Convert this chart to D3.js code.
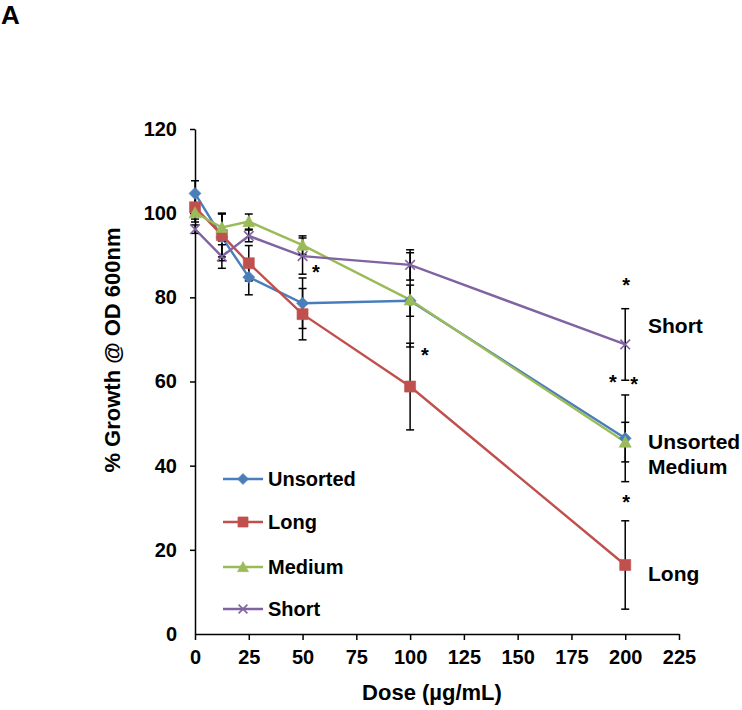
<!DOCTYPE html>
<html>
<head>
<meta charset="utf-8">
<script src="https://cdn.jsdelivr.net/npm/d3@7/dist/d3.min.js"></script>
<style>
  body { margin: 0; background: #fff; }
  svg text { font-family: Arial, "Liberation Sans", sans-serif; font-weight: bold; fill: #000; }
</style>
</head>
<body>
<div id="chart"></div>
<script>
// ---------- data ----------
const doses = [0, 12.5, 25, 50, 100, 200];
const seriesNames = ["Unsorted", "Long", "Medium", "Short"];
const unsortedValues = [104.7, 94.3, 84.8, 78.6, 79.2, 46.5];
const unsortedErrors = [3.0, 5.6, 4.2, 6.0, 3.7, 10.3];
const longValues = [101.4, 94.8, 88.1, 76.0, 58.8, 16.4];
const longErrors = [3.5, 5.2, 4.2, 6.1, 10.3, 10.5];
const mediumValues = [100.1, 96.6, 98.0, 92.4, 79.4, 45.6];
const mediumErrors = [1.5, 3.2, 1.8, 2.2, 11.2, 4.7];
const shortValues = [96.2, 89.7, 94.6, 89.8, 87.7, 68.8];
const shortErrors = [1.0, 2.8, 1.4, 4.3, 3.6, 8.5];
const xTicks = [0, 25, 50, 75, 100, 125, 150, 175, 200, 225];
const yTicks = [0, 20, 40, 60, 80, 100, 120];
// significance asterisks (dose, value)
const starDoses = [56.2, 106.9, 200.4, 194.3, 204.1, 200.4];
const starValues = [86.5, 66.8, 83.4, 60.4, 59.9, 31.8];
// end-of-line labels (value at which each label is centred)
const endLabels = ["Short", "Unsorted", "Medium", "Long"];
const endLabelValues = [73.4, 45.8, 39.9, 14.3];

// ---------- styles ----------
const colors = { Unsorted: "#4a7ebb", Long: "#c0504d", Medium: "#9bbb59", Short: "#8064a2" };
const markers = { Unsorted: "diamond", Long: "square", Medium: "triangle", Short: "cross" };

const series = [
  { name: "Unsorted", values: unsortedValues, errors: unsortedErrors },
  { name: "Long", values: longValues, errors: longErrors },
  { name: "Medium", values: mediumValues, errors: mediumErrors },
  { name: "Short", values: shortValues, errors: shortErrors }
];

const W = 742, H = 710;
const svg = d3.select("#chart").append("svg").attr("width", W).attr("height", H);

const x = d3.scaleLinear().domain([0, 225]).range([195, 679]);
const y = d3.scaleLinear().domain([0, 120]).range([634, 129]);

// axes
const yAxis = d3.axisLeft(y).tickValues(yTicks).tickSize(5).tickPadding(13).tickSizeOuter(0);
const gy = svg.append("g").attr("transform", `translate(${x(0)},0)`).call(yAxis);
const xAxis = d3.axisBottom(x).tickValues(xTicks).tickSize(6).tickPadding(10).tickSizeOuter(0);
const gx = svg.append("g").attr("transform", `translate(0,${y(0)})`).call(xAxis);
[gx, gy].forEach(g => {
  g.select(".domain").attr("stroke", "#000").attr("stroke-width", 1.5);
  g.selectAll(".tick line").attr("stroke", "#000").attr("stroke-width", 1.5);
  g.selectAll(".tick text").style("font-size", "20px").style("font-family", "Arial, 'Liberation Sans', sans-serif").style("font-weight", "bold").attr("fill", "#000");
});
gy.selectAll(".tick").filter(d => d === 0).select("line").remove();

// marker paths (custom shapes, centred at 0,0)
function markerPath(type, s) {
  const h = s / 2;
  if (type === "diamond") return `M0,${-h}L${h},0L0,${h}L${-h},0Z`;
  if (type === "square") { const q = h * 0.92; return `M${-q},${-q}H${q}V${q}H${-q}Z`; }
  if (type === "triangle") return `M0,${-h}L${h},${h * 0.85}L${-h},${h * 0.85}Z`;
  const c = h * 0.8;
  return `M${-c},${-c}L${c},${c}M${-c},${c}L${c},${-c}`;
}
function drawMarker(g, type, color, cx, cy, s) {
  const p = g.append("path").attr("transform", `translate(${cx},${cy})`).attr("d", markerPath(type, s));
  if (type === "cross") {
    p.attr("fill", "none").attr("stroke", color).attr("stroke-width", 1.6);
  } else {
    p.attr("fill", color).attr("stroke", color).attr("stroke-width", 0.6);
  }
}

const line = d3.line().x(d => x(d[0])).y(d => y(d[1]));

// lines
series.forEach(s => {
  svg.append("path")
    .datum(doses.map((d, i) => [d, s.values[i]]))
    .attr("d", line)
    .attr("fill", "none")
    .attr("stroke", colors[s.name])
    .attr("stroke-width", 2.4);
});

// error bars
const capW = 4;
series.forEach(s => {
  const g = svg.append("g");
  doses.forEach((d, i) => {
    const cx = x(d), top = y(s.values[i] + s.errors[i]), bot = y(s.values[i] - s.errors[i]);
    g.append("line").attr("x1", cx).attr("x2", cx).attr("y1", top).attr("y2", bot).attr("stroke", "#000").attr("stroke-width", 1.5);
    g.append("line").attr("x1", cx - capW).attr("x2", cx + capW).attr("y1", top).attr("y2", top).attr("stroke", "#000").attr("stroke-width", 1.5);
    g.append("line").attr("x1", cx - capW).attr("x2", cx + capW).attr("y1", bot).attr("y2", bot).attr("stroke", "#000").attr("stroke-width", 1.5);
  });
});

// markers
series.forEach(s => {
  const g = svg.append("g");
  doses.forEach((d, i) => drawMarker(g, markers[s.name], colors[s.name], x(d), y(s.values[i]), 12));
});

// asterisks
starDoses.forEach((d, i) => {
  svg.append("text").attr("x", x(d)).attr("y", y(starValues[i]) + 9)
    .attr("text-anchor", "middle").style("font-size", "20px").text("*");
});

// end labels
endLabels.forEach((t, i) => {
  svg.append("text").attr("x", 648).attr("y", y(endLabelValues[i]))
    .attr("dy", "0.36em").style("font-size", "21px").text(t);
});

// legend
const legendY = [479, 522, 567, 609];
series.forEach((s, i) => {
  const g = svg.append("g").attr("transform", `translate(223,${legendY[i]})`);
  g.append("line").attr("x1", 0).attr("x2", 40).attr("y1", 0).attr("y2", 0)
    .attr("stroke", colors[s.name]).attr("stroke-width", 2.4);
  drawMarker(g, markers[s.name], colors[s.name], 20, 0, 11);
  g.append("text").attr("x", 45).attr("y", 0).attr("dy", "0.36em").style("font-size", "20px").text(s.name);
});

// axis titles
svg.append("text").attr("transform", "translate(120,350) rotate(-90)")
  .attr("text-anchor", "middle").style("font-size", "22px").text("% Growth @ OD 600nm");
svg.append("text").attr("x", 432).attr("y", 700)
  .attr("text-anchor", "middle").style("font-size", "22px").text("Dose (µg/mL)");

// panel letter
svg.append("text").attr("x", 1).attr("y", 24).style("font-size", "26px").text("A");
</script>
</body>
</html>
